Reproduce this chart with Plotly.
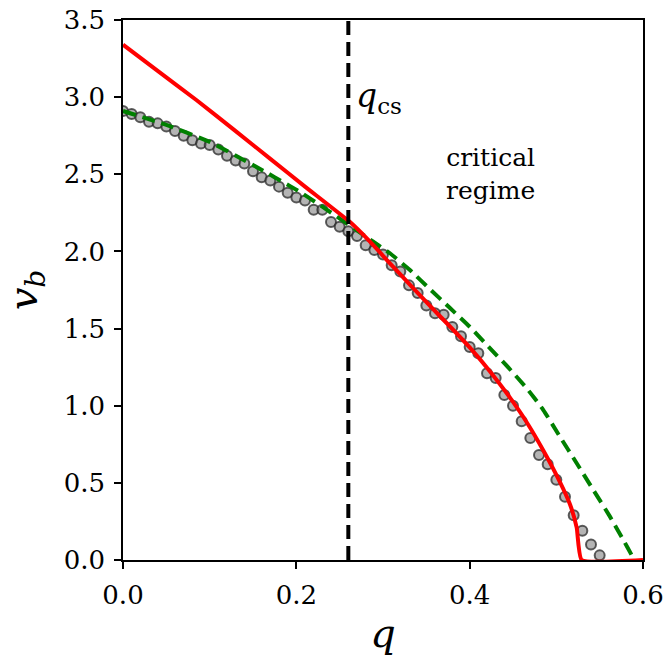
import plotly.graph_objects as go

# simulation points
q_sim = [round(0.01 * i, 2) for i in range(56)]
v_sim = [2.91, 2.89, 2.87, 2.84, 2.83, 2.81, 2.78, 2.75, 2.72, 2.70,
         2.69, 2.66, 2.62, 2.59, 2.57, 2.52, 2.48, 2.46, 2.42, 2.38,
         2.35, 2.33, 2.27, 2.27, 2.19, 2.16, 2.13, 2.10, 2.04, 2.01,
         1.98, 1.91, 1.87, 1.78, 1.73, 1.65, 1.60, 1.59, 1.51, 1.45,
         1.38, 1.34, 1.21, 1.18, 1.07, 1.00, 0.90, 0.79, 0.68, 0.62,
         0.52, 0.41, 0.29, 0.19, 0.10, 0.03]

# red theory curve
q_red = [0.0, 0.04, 0.085, 0.13, 0.17, 0.21, 0.262, 0.285, 0.308, 0.331,
         0.354, 0.377, 0.40, 0.4235, 0.4465, 0.4658, 0.485, 0.5042, 0.5158,
         0.5235, 0.5292, 0.60]
v_red = [3.34, 3.17, 2.98, 2.78, 2.60, 2.42, 2.19, 2.063, 1.923, 1.785,
         1.648, 1.515, 1.378, 1.222, 1.052, 0.893, 0.71, 0.505, 0.36,
         0.21, 0.0, 0.0]

# green dashed curve
q_green = [0.0, 0.05, 0.10, 0.15, 0.20, 0.23, 0.2888, 0.308, 0.3311, 0.3542,
           0.3773, 0.4004, 0.4196, 0.445, 0.4658, 0.485, 0.5042, 0.5235,
           0.5427, 0.5619, 0.5773, 0.5869, 0.59]
v_green = [2.91, 2.82, 2.71, 2.56, 2.40, 2.29, 2.063, 1.988, 1.879, 1.755,
           1.633, 1.51, 1.395, 1.245, 1.113, 0.972, 0.799, 0.627,
           0.454, 0.281, 0.130, 0.032, 0.0]

q_cs = 0.26
x_ticks = [0.0, 0.2, 0.4, 0.6]
x_labels = ["0.0", "0.2", "0.4", "0.6"]
y_ticks = [0.0, 0.5, 1.0, 1.5, 2.0, 2.5, 3.0, 3.5]
y_labels = ["0.0", "0.5", "1.0", "1.5", "2.0", "2.5", "3.0", "3.5"]

FONT = "DejaVu Serif"

fig = go.Figure()
fig.add_trace(go.Scatter(
    x=q_sim, y=v_sim, mode="markers",
    marker=dict(size=10, color="rgba(140,140,140,0.65)",
                line=dict(color="rgba(40,40,40,0.75)", width=2)),
    showlegend=False))
fig.add_trace(go.Scatter(
    x=q_green, y=v_green, mode="lines",
    line=dict(color="#008000", width=4, dash="13px,7px", shape="spline", smoothing=0.5),
    showlegend=False))
fig.add_trace(go.Scatter(
    x=q_red, y=v_red, mode="lines",
    line=dict(color="#ff0000", width=4, shape="spline", smoothing=0.4),
    showlegend=False))
fig.add_trace(go.Scatter(
    x=[q_cs, q_cs], y=[0.0, 3.5], mode="lines",
    line=dict(color="black", width=4, dash="14px,7px"),
    showlegend=False))

fig.add_annotation(x=q_cs, y=3.0, xref="x", yref="y",
                   text="<i>q</i><sub>cs</sub>", showarrow=False,
                   xanchor="left", yanchor="middle", xshift=6,
                   font=dict(family=FONT, size=33, color="black"))
fig.add_annotation(x=0.424, y=2.5, xref="x", yref="y",
                   text="critical<br>regime", showarrow=False,
                   xanchor="center", yanchor="middle",
                   font=dict(family=FONT, size=25, color="black"))

axis_common = dict(showline=True, linecolor="black", linewidth=1.5,
                   mirror=True, ticks="outside", ticklen=7, tickwidth=1.5,
                   tickcolor="black", showgrid=False, zeroline=False,
                   ticklabelstandoff=4,
                   tickfont=dict(family=FONT, size=26, color="black"))

fig.update_xaxes(range=[0, 0.6], tickvals=x_ticks, ticktext=x_labels,
                 title=dict(text="<i>q</i>", font=dict(family=FONT, size=40, color="black"),
                            standoff=10),
                 **axis_common)
fig.update_yaxes(range=[0, 3.5], tickvals=y_ticks, ticktext=y_labels,
                 title=dict(text="<i>v</i><sub><i>b</i></sub>",
                            font=dict(family=FONT, size=40, color="black"),
                            standoff=18),
                 **axis_common)

fig.update_layout(width=665, height=662,
                  font=dict(family=FONT),
                  margin=dict(l=123, r=22, t=20, b=102, autoexpand=False),
                  plot_bgcolor="white", paper_bgcolor="white")

fig.write_html("out.html", config={"displayModeBar": False},
               post_script="document.body.style.margin='0';document.body.style.overflow='hidden';")
